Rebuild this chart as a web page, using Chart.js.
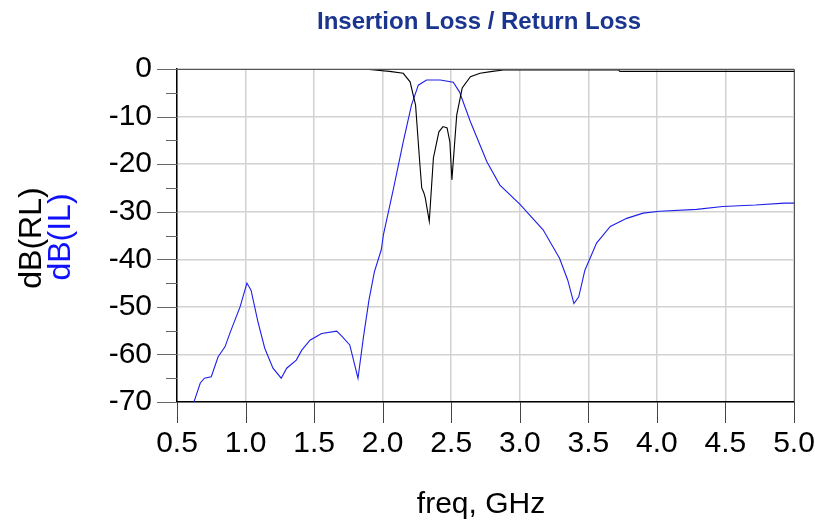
<!DOCTYPE html>
<html>
<head>
<meta charset="utf-8">
<script src="https://cdn.jsdelivr.net/npm/chart.js@4.4.0/dist/chart.umd.min.js"></script>
<style>
  html, body { margin: 0; padding: 0; background: #fff; }
  #wrap { width: 815px; height: 523px; position: relative; }
</style>
</head>
<body>
<div id="wrap"><canvas id="lossChart" width="815" height="523"></canvas></div>
<script>
// Return loss dB(RL), black trace
const freqRL = [0.5, 0.6, 1.0, 1.5, 1.9, 1.94, 2.05, 2.15, 2.2, 2.24, 2.27, 2.285, 2.3, 2.31, 2.34,
    2.37, 2.41, 2.44, 2.47, 2.49, 2.505, 2.54, 2.58, 2.64, 2.71, 2.8, 2.88, 3.2, 3.72, 3.73, 4.5, 5.0];
const valuesRL = [-0.1, -0.1, -0.1, -0.1, -0.1, -0.2, -0.5, -0.9, -2.7, -7.6, -19.5, -25, -26, -27, -32,
    -18.7, -13.2, -12.1, -12.4, -15.3, -23.3, -9.7, -4, -1.6, -0.9, -0.5, -0.2, -0.2, -0.2, -0.5, -0.5, -0.5];

// Insertion loss dB(IL), blue trace
const freqIL = [0.62, 0.67, 0.70, 0.75, 0.80, 0.85, 0.89, 0.96, 1.01, 1.04, 1.09, 1.14, 1.20, 1.26, 1.30,
    1.37, 1.41, 1.47, 1.555, 1.665, 1.70, 1.76, 1.82, 1.86, 1.90, 1.94, 1.99, 2.005, 2.08, 2.15, 2.21,
    2.26, 2.32, 2.42, 2.515, 2.56, 2.64, 2.76, 2.855, 3.0, 3.17, 3.29, 3.35, 3.395, 3.43, 3.475, 3.56,
    3.66, 3.78, 3.90, 4.02, 4.29, 4.48, 4.72, 4.93, 5.0];
const valuesIL = [-70.3, -66, -65, -64.7, -60.5, -58.4, -55.2, -50, -45, -46.5, -53.1, -58.7, -62.9, -65, -62.9,
    -61.2, -59.1, -57, -55.6, -55.1, -56.1, -58, -65, -56.3, -48.6, -42.6, -38, -34.9, -25, -15.3, -7.6,
    -3.4, -2.3, -2.3, -2.8, -4.8, -11.1, -19.5, -24.4, -28.4, -33.8, -39.8, -44.4, -49.3, -47.9, -42.3, -36.6,
    -33.1, -31.4, -30.3, -29.9, -29.5, -28.9, -28.6, -28.2, -28.2];

const xTicks = [0.5, 1.0, 1.5, 2.0, 2.5, 3.0, 3.5, 4.0, 4.5, 5.0];
const yTicks = [0, -10, -20, -30, -40, -50, -60, -70];

const FONT = "'Liberation Sans', Arial, sans-serif";

// extra drawing: title, axis titles, tick marks, frame
const decorPlugin = {
    id: 'decor',
    afterDraw(chart) {
        const ctx = chart.ctx;
        const area = chart.chartArea;
        const xs = chart.scales.x;
        const ys = chart.scales.y;
        ctx.save();

        // frame right/top
        ctx.strokeStyle = '#555';
        ctx.lineWidth = 1;
        ctx.beginPath();
        ctx.moveTo(area.left, area.top + 0.5);
        ctx.lineTo(area.right + 0.5, area.top + 0.5);
        ctx.lineTo(area.right + 0.5, area.bottom);
        ctx.stroke();

        // y tick marks (major every 10, minor every 5)
        ctx.strokeStyle = '#666';
        ctx.beginPath();
        for (let v = 0; v >= -70; v -= 5) {
            const y = Math.round(ys.getPixelForValue(v)) + 0.5;
            const len = (v % 10 === 0) ? 20 : 11;
            ctx.moveTo(area.left - len, y);
            ctx.lineTo(area.left, y);
        }
        ctx.stroke();

        // x tick marks
        ctx.strokeStyle = '#444';
        ctx.beginPath();
        xTicks.forEach(v => {
            const x = Math.round(xs.getPixelForValue(v)) + 0.5;
            ctx.moveTo(x, area.bottom);
            ctx.lineTo(x, area.bottom + 21);
        });
        ctx.stroke();

        // title
        ctx.fillStyle = '#1a3590';
        ctx.font = 'bold 24px ' + FONT;
        ctx.textAlign = 'center';
        ctx.textBaseline = 'alphabetic';
        ctx.fillText('Insertion Loss / Return Loss', 479, 29);

        // x axis title
        ctx.fillStyle = '#000';
        ctx.font = '30px ' + FONT;
        ctx.fillText('freq, GHz', 481, 513);

        // y axis titles (rotated)
        ctx.font = '32px ' + FONT;
        ctx.textBaseline = 'middle';
        ctx.save();
        ctx.translate(32, 238);
        ctx.rotate(-Math.PI / 2);
        ctx.fillStyle = '#000';
        ctx.fillText('dB(RL)', 0, 0);
        ctx.restore();
        ctx.save();
        ctx.translate(61, 237);
        ctx.rotate(-Math.PI / 2);
        ctx.fillStyle = '#1010ff';
        ctx.fillText('dB(IL)', 0, 0);
        ctx.restore();

        ctx.restore();
    }
};

function initChart() {
    const ctx = document.getElementById('lossChart').getContext('2d');
    new Chart(ctx, {
        type: 'line',
        data: {
            datasets: [
                {
                    label: 'dB(RL)',
                    data: freqRL.map((f, i) => ({ x: f, y: valuesRL[i] })),
                    borderColor: '#000000',
                    borderWidth: 1.1,
                    pointRadius: 0,
                    tension: 0
                },
                {
                    label: 'dB(IL)',
                    data: freqIL.map((f, i) => ({ x: f, y: valuesIL[i] })),
                    borderColor: 'rgb(30, 30, 235)',
                    borderWidth: 1.1,
                    pointRadius: 0,
                    tension: 0
                }
            ]
        },
        options: {
            responsive: false,
            animation: false,
            layout: { padding: { top: 69, right: 21, left: 0, bottom: 0 } },
            plugins: {
                legend: { display: false },
                title: { display: false },
                tooltip: { enabled: false }
            },
            scales: {
                x: {
                    type: 'linear',
                    min: 0.5,
                    max: 5.0,
                    afterFit: s => { s.height = 121; s.paddingLeft = 0; s.paddingRight = 0; },
                    afterBuildTicks: s => { s.ticks = xTicks.map(v => ({ value: v })); },
                    grid: { color: '#d2d2d2', lineWidth: 1.5, drawTicks: false },
                    border: { display: true, color: '#000', width: 1.5 },
                    ticks: {
                        padding: 24,
                        color: '#000',
                        font: { family: FONT, size: 30 },
                        maxRotation: 0,
                        callback: v => v.toFixed(1)
                    }
                },
                y: {
                    type: 'linear',
                    min: -70,
                    max: 0,
                    afterFit: s => { s.width = 177; s.paddingTop = 0; s.paddingBottom = 0; },
                    afterBuildTicks: s => { s.ticks = yTicks.map(v => ({ value: v })); },
                    grid: { color: '#d2d2d2', lineWidth: 1.5, drawTicks: false },
                    border: { display: true, color: '#000', width: 1.5 },
                    ticks: {
                        padding: 25,
                        color: '#000',
                        font: { family: FONT, size: 30 },
                        callback: v => String(v)
                    }
                }
            }
        },
        plugins: [decorPlugin]
    });
}

document.addEventListener('DOMContentLoaded', () => {
    initChart();
});
</script>
</body>
</html>
